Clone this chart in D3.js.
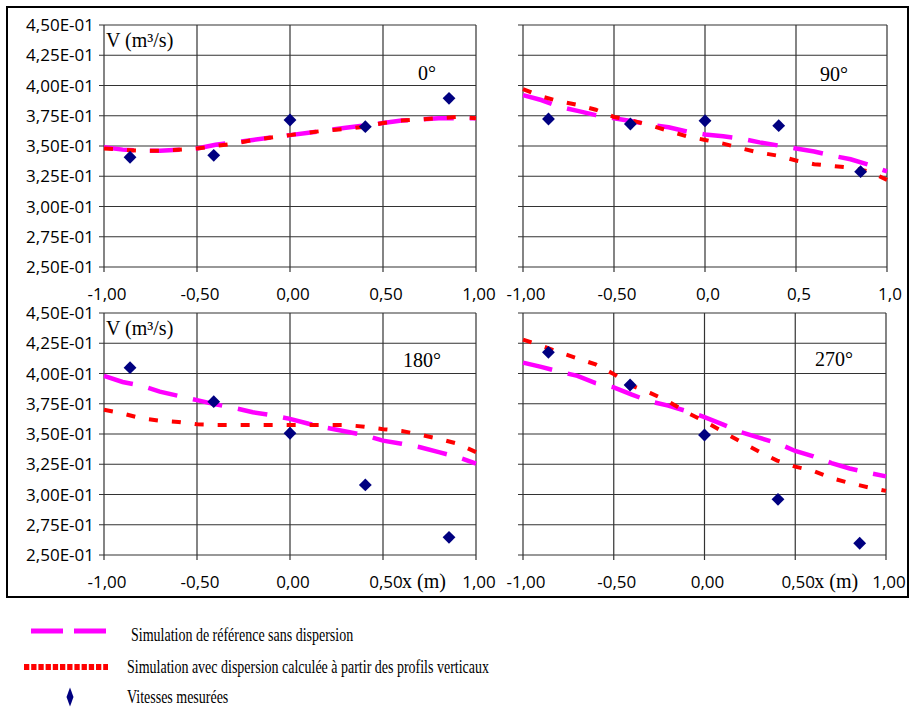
<!doctype html>
<html lang="fr">
<head>
  <meta charset="UTF-8">
  <script src="https://cdn.jsdelivr.net/npm/d3@7"></script>
  <title>Vitesses</title>
  <style>
    body{ margin:0; background:#fff; }
    .tick-label{ font-family:"Open Sans", sans-serif; font-size:17px; fill:#000; }
    .serif{ font-family:"Liberation Serif", "Times New Roman", serif; fill:#000; }
  </style>
</head>
<body>
  <div class="chart"></div>
  <script>
    // data
    const simX = [-1.0, -0.9, -0.8, -0.7, -0.6, -0.5, -0.4, -0.3, -0.2, -0.1, 0.0, 0.1, 0.2, 0.3, 0.4, 0.5, 0.6, 0.7, 0.8, 0.9, 1.0];
    const measX = [-0.86, -0.41, 0.0, 0.405, 0.855];

    const refSim0   = [0.349, 0.347, 0.346, 0.346, 0.347, 0.348, 0.351, 0.353, 0.355, 0.357, 0.359, 0.361, 0.363, 0.365, 0.367, 0.369, 0.371, 0.372, 0.373, 0.373, 0.373];
    const dispSim0  = [0.348, 0.347, 0.346, 0.346, 0.347, 0.348, 0.350, 0.352, 0.355, 0.357, 0.359, 0.361, 0.363, 0.364, 0.366, 0.369, 0.371, 0.372, 0.373, 0.374, 0.373];
    const meas0     = [0.3407, 0.3423, 0.3715, 0.366, 0.3894];

    const refSim90  = [0.392, 0.388, 0.3825, 0.379, 0.3755, 0.373, 0.3705, 0.3675, 0.3655, 0.362, 0.3595, 0.358, 0.356, 0.353, 0.3505, 0.348, 0.3455, 0.342, 0.339, 0.3345, 0.329];
    const dispSim90 = [0.397, 0.391, 0.387, 0.384, 0.380, 0.374, 0.371, 0.367, 0.3625, 0.358, 0.355, 0.352, 0.348, 0.3445, 0.342, 0.338, 0.335, 0.3335, 0.332, 0.329, 0.322];
    const meas90    = [0.3723, 0.3682, 0.3709, 0.3668, 0.3288];

    const refSim180  = [0.398, 0.393, 0.390, 0.385, 0.3815, 0.378, 0.3745, 0.3715, 0.368, 0.3655, 0.3625, 0.3585, 0.355, 0.352, 0.349, 0.3445, 0.342, 0.339, 0.335, 0.331, 0.3255];
    const dispSim180 = [0.370, 0.367, 0.363, 0.361, 0.360, 0.358, 0.3575, 0.3575, 0.3575, 0.3575, 0.3575, 0.3575, 0.3575, 0.3575, 0.356, 0.354, 0.3525, 0.3495, 0.346, 0.342, 0.335];
    const meas180    = [0.4048, 0.3767, 0.3506, 0.3079, 0.2646];

    const refSim270  = [0.409, 0.4055, 0.4015, 0.398, 0.392, 0.3885, 0.3825, 0.377, 0.3735, 0.369, 0.364, 0.358, 0.3515, 0.347, 0.3425, 0.336, 0.3315, 0.326, 0.3215, 0.318, 0.315];
    const dispSim270 = [0.428, 0.423, 0.4175, 0.4125, 0.4075, 0.3995, 0.390, 0.384, 0.377, 0.368, 0.3605, 0.352, 0.3435, 0.3355, 0.328, 0.323, 0.3195, 0.3135, 0.3095, 0.306, 0.303];
    const meas270    = [0.4175, 0.3905, 0.3492, 0.296, 0.2597];

    const yTicks = [0.25, 0.275, 0.30, 0.325, 0.35, 0.375, 0.40, 0.425, 0.45];
    const yTickLabels = ["2,50E-01", "2,75E-01", "3,00E-01", "3,25E-01", "3,50E-01", "3,75E-01", "4,00E-01", "4,25E-01", "4,50E-01"];
    const xTicks = [-1, -0.5, 0, 0.5, 1];
    const xLabelsA = ["-1,00", "-0,50", "0,00", "0,50", "1,00"];
    const xLabelsB = ["-1,00", "-0,50", "0,0", "0,5", "1,0"];
    const angles = ["0°", "90°", "180°", "270°"];
    const legendLabels = ["Simulation de référence sans dispersion",
                          "Simulation avec dispersion calculée à partir des profils verticaux",
                          "Vitesses mesurées"];

    const W = 912, H = 713;
    const svg = d3.select('.chart').append('svg').attr('width', W).attr('height', H);

    svg.append('rect').attr('x', 7).attr('y', 7).attr('width', 901).attr('height', 590)
      .attr('fill', 'none').attr('stroke', '#000').attr('stroke-width', 2);

    const panels = [
      {x0:104, x1:476, y0:25,  y1:267, ref:refSim0,   disp:dispSim0,   meas:meas0,   xl:xLabelsA, yl:true,  vlab:true,  xm:false, ang:angles[0], ax:314, ay:55},
      {x0:523, x1:887, y0:25,  y1:267, ref:refSim90,  disp:dispSim90,  meas:meas90,  xl:xLabelsB, yl:false, vlab:false, xm:false, ang:angles[1], ax:297, ay:56},
      {x0:104, x1:476, y0:313, y1:555, ref:refSim180, disp:dispSim180, meas:meas180, xl:xLabelsA, yl:true,  vlab:true,  xm:true,  ang:angles[2], ax:299, ay:54},
      {x0:523, x1:886, y0:313, y1:555, ref:refSim270, disp:dispSim270, meas:meas270, xl:xLabelsA, yl:false, vlab:false, xm:true,  ang:angles[3], ax:292, ay:53}
    ];

    const diamond = d3.symbol().type(d3.symbolDiamond2).size(105);

    panels.forEach(p => {
      const x = d3.scaleLinear().domain([-1, 1]).range([p.x0, p.x1]);
      const y = d3.scaleLinear().domain([0.25, 0.45]).range([p.y1, p.y0]);
      const g = svg.append('g');

      // grid
      g.selectAll('line.hg').data(yTicks).enter().append('line')
        .attr('x1', p.x0 - 5).attr('x2', p.x1).attr('y1', d => y(d)).attr('y2', d => y(d))
        .attr('stroke', '#333').attr('stroke-width', 1.2);
      g.selectAll('line.vg').data(xTicks).enter().append('line')
        .attr('x1', d => x(d)).attr('x2', d => x(d)).attr('y1', p.y0).attr('y2', p.y1 + 5)
        .attr('stroke', '#333').attr('stroke-width', 1.2);

      if (p.yl) {
        g.selectAll('text.yl').data(yTicks).enter().append('text')
          .attr('class', 'tick-label').attr('text-anchor', 'end')
          .attr('x', p.x0 - 10).attr('y', d => y(d) + 6)
          .text((d, i) => yTickLabels[i]);
      }
      g.selectAll('text.xl').data(xTicks).enter().append('text')
        .attr('class', 'tick-label').attr('text-anchor', 'middle')
        .attr('x', d => x(d) + 3).attr('y', p.y1 + 33)
        .text((d, i) => p.xl[i]);

      const line = d3.line().x((d, i) => x(simX[i])).y(d => y(d));
      g.append('path').attr('d', line(p.ref)).attr('fill', 'none')
        .attr('stroke', '#ff00ff').attr('stroke-width', 4.5).attr('stroke-dasharray', '30,16');
      g.append('path').attr('d', line(p.disp)).attr('fill', 'none')
        .attr('stroke', '#ff0000').attr('stroke-width', 4).attr('stroke-dasharray', '9,14');

      g.selectAll('path.pt').data(p.meas).enter().append('path')
        .attr('d', diamond).attr('fill', '#000080')
        .attr('transform', (d, i) => `translate(${x(measX[i])},${y(d)})`);

      if (p.vlab) {
        g.append('text').attr('class', 'serif').attr('font-size', 20)
          .attr('x', p.x0 + 2).attr('y', p.y0 + 22).text('V (m³/s)');
      }
      if (p.xm) {
        g.append('text').attr('class', 'serif').attr('font-size', 20)
          .attr('x', x(0.5) + 19).attr('y', p.y1 + 33).text('x (m)');
      }
      g.append('text').attr('class', 'serif').attr('font-size', 20)
        .attr('x', p.x0 + p.ax).attr('y', p.y0 + p.ay).text(p.ang);
    });

    // legend
    const lg = svg.append('g');
    lg.append('line').attr('x1', 31).attr('x2', 106).attr('y1', 631).attr('y2', 631)
      .attr('stroke', '#ff00ff').attr('stroke-width', 5).attr('stroke-dasharray', '32,11');
    lg.append('line').attr('x1', 24).attr('x2', 108).attr('y1', 667).attr('y2', 667)
      .attr('stroke', '#ff0000').attr('stroke-width', 6).attr('stroke-dasharray', '5.3,1.9');
    lg.append('path').attr('d', 'M0,-9.5L3.5,0L0,9.5L-3.5,0Z').attr('fill', '#000080')
      .attr('transform', 'translate(70,697)');
    const ly = [641, 673, 703];
    const lx = [131, 127, 127];
    lg.selectAll('text').data(legendLabels).enter().append('text')
      .attr('class', 'serif').attr('font-size', 14)
      .attr('transform', (d, i) => `translate(${lx[i]},${ly[i]}) scale(1,1.4)`)
      .text(d => d);
  </script>
</body>
</html>
